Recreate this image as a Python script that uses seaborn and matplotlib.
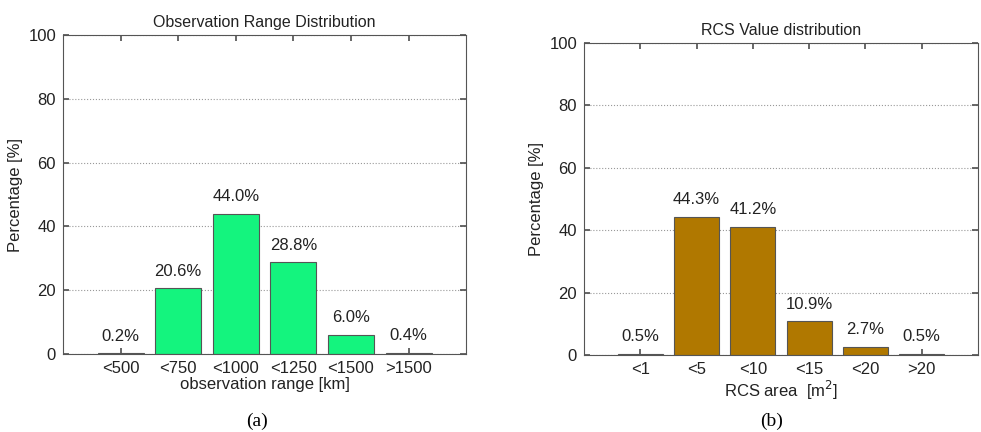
import matplotlib
matplotlib.use("Agg")
import matplotlib.pyplot as plt
import seaborn as sns
import pandas as pd

# Observation range distribution
range_labels = ["<500", "<750", "<1000", "<1250", "<1500", ">1500"]
range_pct = [0.2, 20.6, 44.0, 28.8, 6.0, 0.4]

# RCS value distribution
rcs_labels = ["<1", "<5", "<10", "<15", "<20", ">20"]
rcs_pct = [0.5, 44.3, 41.2, 10.9, 2.7, 0.5]

yticks = [0, 20, 40, 60, 80, 100]

sns.set_theme(style="white")
plt.rcParams["font.family"] = ["Liberation Sans", "DejaVu Sans"]

fig = plt.figure(figsize=(9.81, 4.32), dpi=100)
ax1 = fig.add_axes([0.0642, 0.1806, 0.411, 0.738])
ax2 = fig.add_axes([0.5953, 0.178, 0.4016, 0.7225])


def draw(ax, labels, values, color, title, xlabel):
    df = pd.DataFrame({"cat": labels, "pct": values})
    sns.barplot(data=df, x="cat", y="pct", order=labels, color=color,
                width=0.8, edgecolor="#555555", linewidth=0.8,
                saturation=1, ax=ax)
    ax.set_xlim(-1, len(labels))
    ax.set_ylim(0, 100)
    ax.set_yticks(yticks)
    ax.yaxis.grid(True, linestyle=":", color="#999999", linewidth=0.8)
    ax.xaxis.grid(False)
    ax.set_axisbelow(True)
    for s in ax.spines.values():
        s.set_color("#555555")
        s.set_linewidth(0.8)
    ax.tick_params(direction="in", length=4, color="#555555",
                   top=True, right=True, bottom=True, left=True,
                   labelsize=12, pad=5)
    for lab in ax.get_xticklabels() + ax.get_yticklabels():
        lab.set_color("#222222")
    for i, v in enumerate(values):
        ax.text(i, v + 3, f"{v:.1f}%", ha="center", va="bottom",
                fontsize=12, color="#222222")
    ax.set_title(title, fontsize=11.5, color="#222222", pad=6)
    ax.set_xlabel(xlabel, fontsize=12, color="#222222", labelpad=1)
    ax.set_ylabel("Percentage [%]", fontsize=12, color="#222222", labelpad=4)


draw(ax1, range_labels, range_pct, "#14F47E",
     "Observation Range Distribution", "observation range [km]")
draw(ax2, rcs_labels, rcs_pct, "#B07800",
     "RCS Value distribution", r"RCS area  [m$^2$]")

fig.text(0.262, 0.024, "(a)", ha="center", va="center",
         fontsize=14, family="Liberation Serif", color="black")
fig.text(0.787, 0.024, "(b)", ha="center", va="center",
         fontsize=14, family="Liberation Serif", color="black")

fig.savefig("out.png", dpi=100)
